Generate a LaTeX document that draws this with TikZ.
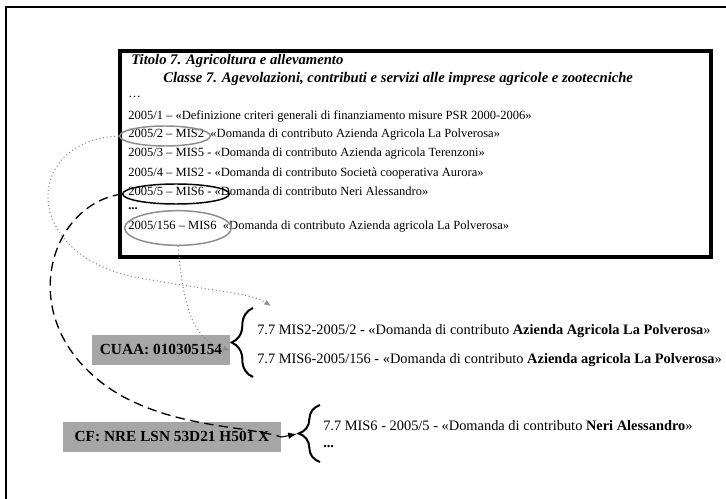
\documentclass[tikz,border=0pt]{standalone}
\usepackage{fontspec}
\setmainfont{Liberation Serif}
\usetikzlibrary{arrows.meta,positioning,shapes.geometric,decorations.pathreplacing}
\definecolor{ring}{HTML}{8C8C8C}
\definecolor{tag}{HTML}{A6A6A6}

\begin{document}
\begin{tikzpicture}[x=0.75pt,y=-0.75pt,>=Latex,
 entry/.style={anchor=west,inner sep=0pt,font=\fontsize{9.4}{11}\selectfont},
 head/.style={anchor=west,inner sep=0pt,font=\bfseries\itshape\fontsize{11}{13}\selectfont},
 folder/.style={anchor=west,inner sep=0pt,font=\fontsize{10.8}{13}\selectfont},
 oval/.style={ellipse,draw=ring,line width=1.1pt,inner sep=0pt},
 key/.style={fill=tag,inner sep=0pt,font=\bfseries\fontsize{11.5}{13}\selectfont},
 curl/.style={decorate,decoration={brace,amplitude=16pt},line width=1.5pt},
 link/.style={draw=ring,line width=0.8pt,dotted,-{Latex[length=5pt,width=4pt]}}]
\useasboundingbox (0,0) rectangle (726,499);
\clip (0,0) rectangle (726,499);
\draw[line width=1.8pt] (6,7) rectangle (760,540);
\draw[line width=2.6pt] (120,51) rectangle (711,257);
% register of the class
\node[head] (tit) at (131,61) {Titolo 7. Agricoltura e allevamento};
\node[head] (cls) at (163,79) {Classe 7. Agevolazioni, contributi e servizi alle imprese agricole e zootecniche};
\node[entry] (e0) at (128,97) {\dots};
\node[entry] (e1) at (128,116) {2005/1 -- «Definizione criteri generali di finanziamento misure PSR 2000-2006»};
\node[entry] (e2) at (128,135) {2005/2 -- MIS2 \ «Domanda di contributo Azienda Agricola La Polverosa»};
\node[entry] (e3) at (128,154) {2005/3 -- MIS5 - «Domanda di contributo Azienda agricola Terenzoni»};
\node[entry] (e4) at (128,173) {2005/4 -- MIS2 - «Domanda di contributo Società cooperativa Aurora»};
\node[entry] (e5) at (128,191) {2005/5 -- MIS6 - «Domanda di contributo Neri Alessandro»};
\node[entry] (e6) at (128,209) {\textbf{...}};
\node[entry] (e7) at (128,227) {2005/156 -- MIS6 \ «Domanda di contributo Azienda agricola La Polverosa»};
\node[oval,minimum width=68pt,minimum height=15pt] (r2) at (165,136) {};
\node[oval,draw=black,minimum width=80pt,minimum height=15pt] (r5) at (176,194) {};
\node[oval,minimum width=80pt,minimum height=26pt] (r156) at (178,228) {};
% keys and folders
\node[key,minimum width=103pt,minimum height=22pt] (cuaa) at (161,350) {CUAA: 010305154};
\node[key,minimum width=164pt,minimum height=22pt] (cf) at (172,437) {CF: NRE LSN 53D21 H501 X};
\draw[curl] (253,377) -- (253,308);
\coordinate (tipa) at (230,343);
\node[folder] (f1) at (257,331) {7.7 MIS2-2005/2 - «Domanda di contributo \textbf{Azienda Agricola La Polverosa}»};
\node[folder] (f2) at (257,360) {7.7 MIS6-2005/156 - «Domanda di contributo \textbf{Azienda agricola La Polverosa}»};
\draw[curl] (320,462) -- (320,405);
\coordinate (tipb) at (297,434);
\node[folder] (f3) at (323,426) {7.7 MIS6 - 2005/5 - «Domanda di contributo \textbf{Neri Alessandro}»};
\node[folder] (f4) at (323,447) {\textbf{...}};
% links
\coordinate (land) at (271,306);
\draw[link] (r2.west) .. controls (25,140) and (20,250) .. (130,276) .. controls (200,290) and (250,292) .. (land);
\draw[link] (r156.south) .. controls (183,300) and (190,340) .. (cuaa.east);
\draw[line width=1pt,dash pattern=on 7pt off 4pt] (r5.west) .. controls (45,205) and (10,330) .. (120,395) .. controls (180,428) and (240,425) .. (cf.east);
\draw[->,line width=0.8pt] (cf.east) -- (tipb);
\end{tikzpicture}
\end{document}
